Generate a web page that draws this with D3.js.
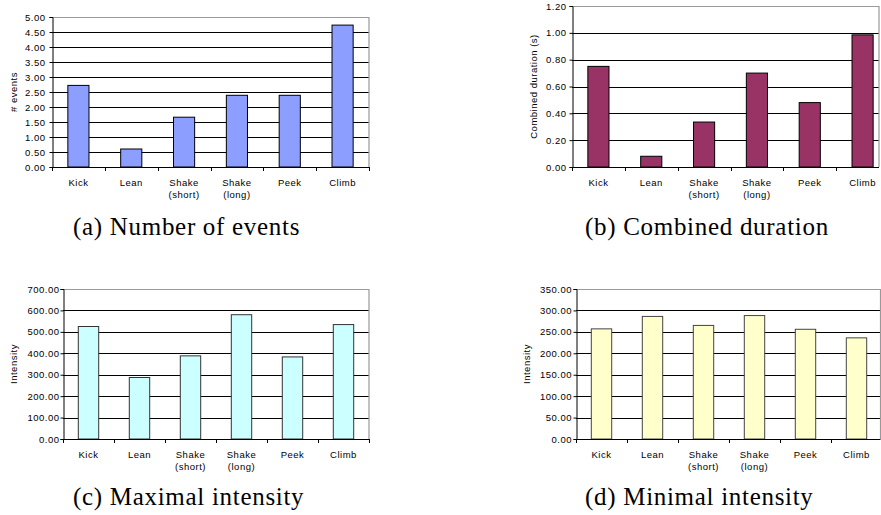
<!DOCTYPE html>
<html lang="en">
<head>
  <meta charset="utf-8">
  <title>Events, duration and intensity</title>
  <script src="https://d3js.org/d3.v7.min.js"></script>
  <style>
    body { margin: 0; background: #fff; }
    svg { display: block; }
    .tick text, .xlab, .ytitle { font-family: "Liberation Sans", Arial, sans-serif; font-size: 9.5px; letter-spacing: 0.5px; fill: #000; }
    .caption { font-family: "Liberation Serif", "Times New Roman", serif; font-size: 25px; letter-spacing: 0.7px; fill: #000; }
  </style>
</head>
<body>
<svg id="chart" width="881" height="515"></svg>
<script>
// categories, two lines each
var categories = ["Kick", "Lean", "Shake (short)", "Shake (long)", "Peek", "Climb"];
var catLines = [["Kick"], ["Lean"], ["Shake", "(short)"], ["Shake", "(long)"], ["Peek"], ["Climb"]];

// values
var eventsVals    = [2.72, 0.60, 1.66, 2.39, 2.39, 4.73];
var durationVals  = [0.75, 0.08, 0.335, 0.70, 0.48, 0.985];
var maxIntensity  = [525, 287, 388, 580, 383, 534];
var minIntensity  = [257, 286, 265, 288, 256, 236];

// tick values
var eventsTicks   = [0, 0.5, 1, 1.5, 2, 2.5, 3, 3.5, 4, 4.5, 5];
var durationTicks = [0, 0.2, 0.4, 0.6, 0.8, 1.0, 1.2];
var maxTicks      = [0, 100, 200, 300, 400, 500, 600, 700];
var minTicks      = [0, 50, 100, 150, 200, 250, 300, 350];

var panels = [
  {vals: eventsVals, ticks: eventsTicks, title: "# events", caption: "(a) Number of events",
   left: 52, right: 369, border: 369, top: 17, bottom: 167, fill: "#8c9eff", stroke: "#000",
   pad: 4, titleX: 14, capX: 73, capY: 235},
  {vals: durationVals, ticks: durationTicks, title: "Combined duration (s)", caption: "(b) Combined duration",
   left: 572, right: 889, border: 879, top: 6, bottom: 167, fill: "#993366", stroke: "#000",
   pad: 3, titleX: 534, capX: 585, capY: 235},
  {vals: maxIntensity, ticks: maxTicks, title: "Intensity", caption: "(c) Maximal intensity",
   left: 63, right: 369, border: 369, top: 289, bottom: 439, fill: "#ccffff", stroke: "#333",
   pad: 1, titleX: 14, capX: 73, capY: 505},
  {vals: minIntensity, ticks: minTicks, title: "Intensity", caption: "(d) Minimal intensity",
   left: 576, right: 882, border: 880.5, top: 289, bottom: 439, fill: "#ffffcc", stroke: "#444",
   pad: 1.5, titleX: 527, capX: 585, capY: 505}
];

var svg = d3.select("#chart");

panels.forEach(function(p) {
  var x = d3.scaleBand().domain(categories).range([p.left, p.right]).padding(0);
  var y = d3.scaleLinear().domain([0, d3.max(p.ticks)]).range([p.bottom, p.top]);
  var g = svg.append("g");
  var barW = x.bandwidth() * 0.4;

  // gridlines (skip the top one, drawn as border)
  g.selectAll("line.grid")
    .data(p.ticks.slice(1, -1))
    .enter().append("line")
    .attr("class", "grid")
    .attr("x1", p.left).attr("x2", p.border)
    .attr("y1", function(d) { return Math.round(y(d)) + 0.5; })
    .attr("y2", function(d) { return Math.round(y(d)) + 0.5; })
    .attr("stroke", "#000").attr("stroke-width", 1);

  // grey plot border top and right
  var topY = Math.round(y(d3.max(p.ticks))) + 0.5;
  g.append("path")
    .attr("d", "M" + p.left + "," + topY + "H" + p.border + "V" + p.bottom)
    .attr("fill", "none").attr("stroke", "#999").attr("stroke-width", 1.2);

  // bars
  g.selectAll("rect.bar")
    .data(p.vals)
    .enter().append("rect")
    .attr("class", "bar")
    .attr("x", function(d, i) { return x(categories[i]) + (x.bandwidth() - barW) / 2; })
    .attr("y", function(d) { return y(d); })
    .attr("width", barW)
    .attr("height", function(d) { return p.bottom - y(d); })
    .attr("fill", p.fill).attr("stroke", p.stroke).attr("stroke-width", 1);

  // y axis
  var ya = g.append("g")
    .attr("transform", "translate(" + (Math.round(p.left) + 0.5) + ",0)")
    .call(d3.axisLeft(y).tickValues(p.ticks).tickFormat(d3.format(".2f")).tickSize(3).tickPadding(p.pad));
  ya.select(".domain").attr("stroke", "#000");
  ya.selectAll(".tick line").attr("stroke", "#000");
  ya.selectAll(".tick text").attr("font-family", null).attr("font-size", null);

  // x axis: baseline plus tick marks at band edges
  g.append("line")
    .attr("x1", p.left).attr("x2", p.border)
    .attr("y1", Math.round(p.bottom) + 0.5).attr("y2", Math.round(p.bottom) + 0.5)
    .attr("stroke", "#000");
  var edges = categories.map(function(c) { return x(c); }).concat([p.right]).filter(function(v) { return v <= p.border + 1; });
  g.selectAll("line.xt")
    .data(edges)
    .enter().append("line")
    .attr("class", "xt")
    .attr("x1", function(d) { return Math.round(d) + 0.5; })
    .attr("x2", function(d) { return Math.round(d) + 0.5; })
    .attr("y1", p.bottom).attr("y2", p.bottom + 4)
    .attr("stroke", "#000");

  // x labels
  var lab = g.selectAll("text.xlab")
    .data(catLines)
    .enter().append("text")
    .attr("class", "xlab")
    .attr("text-anchor", "middle")
    .attr("x", function(d, i) { return x(categories[i]) + x.bandwidth() / 2; })
    .attr("y", p.bottom + 19);
  lab.selectAll("tspan")
    .data(function(d) { return d; })
    .enter().append("tspan")
    .attr("x", function() { return d3.select(this.parentNode).attr("x"); })
    .attr("dy", function(d, i) { return i === 0 ? 0 : 12; })
    .text(function(d) { return d; });

  // y title
  g.append("text")
    .attr("class", "ytitle")
    .attr("text-anchor", "middle")
    .attr("transform", "translate(" + (p.titleX + 3) + "," + ((p.top + p.bottom) / 2) + ") rotate(-90)")
    .text(p.title);

  // caption
  svg.append("text")
    .attr("class", "caption")
    .attr("x", p.capX).attr("y", p.capY)
    .text(p.caption);
});
</script>
</body>
</html>
